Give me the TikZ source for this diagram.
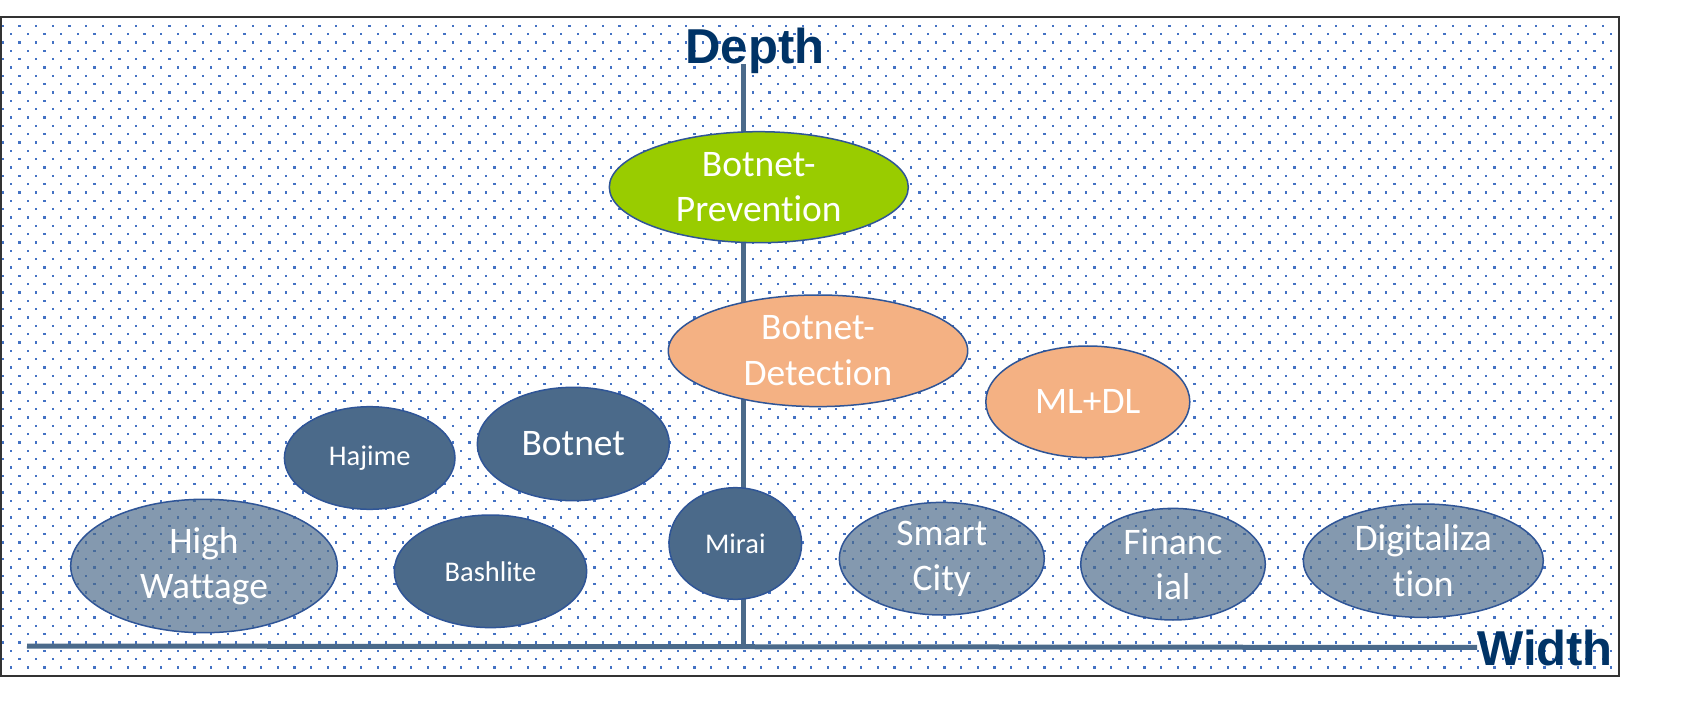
\documentclass[tikz,border=0pt]{standalone}
\usepackage{fontspec}
\usetikzlibrary{shapes.geometric}
\newfontfamily\calibrifont{Carlito}[Ligatures=NoCommon]
\newfontfamily\arialfont{Liberation Sans}
\definecolor{slate}{HTML}{4B6A8A}
\definecolor{rimblue}{HTML}{2F5597}
\definecolor{dotblue}{HTML}{4472C4}
\definecolor{leafgreen}{HTML}{99CC00}
\definecolor{peach}{HTML}{F4B183}
\definecolor{navy}{HTML}{003366}
\definecolor{framegray}{HTML}{333333}

\begin{document}
\begin{tikzpicture}[x=1pt,y=-1pt]
	\tikzset{blob/.style={ellipse, draw=rimblue, line width=1.5pt, inner sep=0pt, text=white, align=center,
			font={\calibrifont\fontsize{37.5}{45.5}\selectfont}}}
	\tikzset{smalltext/.style={font={\calibrifont\fontsize{28.5}{34}\selectfont}}}
	\tikzset{greenblob/.style={blob, fill=leafgreen}}
	\tikzset{peachblob/.style={blob, fill=peach}}
	\tikzset{darkblob/.style={blob, fill=slate}}
	\tikzset{paleblob/.style={blob, fill=slate, fill opacity=0.68, text opacity=1}}
	\tikzset{axisline/.style={slate, line width=5pt}}
	\tikzset{axislabel/.style={inner sep=0pt, text=navy, font={\arialfont\bfseries\fontsize{49}{49}\selectfont}}}
	\useasboundingbox (0,0) rectangle (1702,708);
	\draw[framegray, line width=2pt, fill=white] (1,17) rectangle (1619,676);
	% dotted background
	\foreach \j in {0,...,77}
		\foreach \i in {0,...,96}
			\fill[dotblue] ({1.6+16.667*\i+8.333*mod(\j,2)},{24.6+8.333*\j}) rectangle +(2.3,2.3);
	\node[axislabel, anchor=base] (depth) at (755,64) {Depth};
	\node[axislabel, anchor=base west] (width) at (1477,665) {Width};
	\coordinate (origin) at (743.5,646);
	\coordinate (wstart) at (27,646);
	\draw[axisline] (wstart) -- (width.west);
	\draw[axisline] (origin) -- (origin |- depth.base);
	% depth side
	\node[greenblob, minimum width=299pt, minimum height=111pt] (prevention) at (758.8,187.2) {Botnet-\\Prevention};
	\node[peachblob, minimum width=299.4pt, minimum height=111.6pt] (detection) at (818,350.8) {Botnet-\\Detection};
	\node[peachblob, minimum width=204pt, minimum height=111.6pt] (mldl) at (1087.8,401.8) {ML+DL};
	\node[darkblob, minimum width=192pt, minimum height=113.4pt] (botnet) at (573.3,444) {Botnet};
	\node[darkblob, smalltext, minimum width=170.6pt, minimum height=102.6pt] (hajime) at (369.7,458) {Hajime};
	\node[darkblob, smalltext, minimum width=192.4pt, minimum height=112.6pt] (bashlite) at (490.5,571.3) {Bashlite};
	\node[darkblob, smalltext, minimum width=132.6pt, minimum height=111.6pt] (mirai) at (735.3,543.5) {Mirai};
	% width side
	\node[paleblob, minimum width=266.6pt, minimum height=133.4pt] (wattage) at (204,566) {High\\Wattage};
	\node[paleblob, minimum width=205pt, minimum height=112.6pt] (smartcity) at (941.8,558.7) {Smart\\City};
	\node[paleblob, minimum width=184.6pt, minimum height=111.6pt] (financial) at (1173,564.2) {Financ\\ial};
	\node[paleblob, minimum width=240pt, minimum height=113.4pt] (digital) at (1423.3,560.7) {Digitaliza\\tion};
\end{tikzpicture}
\end{document}
